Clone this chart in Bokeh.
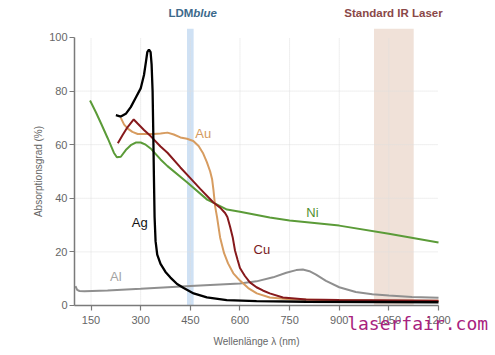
from bokeh.plotting import figure
from bokeh.models import Range1d, FixedTicker, Label
from bokeh.embed import file_html
from bokeh.resources import INLINE

# ---- data ----
ag_lam = [225, 240, 255, 270, 285, 300, 310, 316, 320, 325, 330, 333, 336, 338, 340, 342, 345, 350, 360, 375, 390, 410, 430, 460, 500, 560, 650, 800, 1000, 1200]
ag_val = [71, 70.5, 71.5, 74, 77.5, 81, 86, 91, 94.5, 95.5, 94.5, 90, 80, 65, 48, 33, 24, 19, 15.5, 12.5, 10.4, 8, 6.5, 4.5, 3, 2, 1.6, 1.4, 1.3, 1.2]

au_lam = [240, 250, 261, 275, 291, 310, 339, 360, 381, 400, 420, 440, 459, 475, 489, 500, 510, 516, 520, 525, 531, 540, 552, 564, 580, 600, 625, 651, 690, 750, 850, 1000, 1200]
au_val = [70, 67.5, 66, 64.8, 64, 64, 64, 64.2, 64.5, 63.8, 62.7, 62.2, 61.4, 59.5, 56.7, 53.5, 50, 47, 43, 37, 32.8, 25.4, 19.5, 15.7, 12, 9.3, 6.5, 4.5, 3, 2.3, 2, 1.9, 1.8]

cu_lam = [231, 245, 260, 279, 290, 310, 330, 360, 381, 420, 450, 480, 519, 540, 555, 562, 570, 578, 585, 593, 600, 615, 630, 650, 669, 690, 730, 800, 900, 1200]
cu_val = [60.5, 63.5, 66.5, 69.4, 68, 65.5, 63.2, 59.3, 57, 51.5, 47.5, 43.5, 38.5, 36.5, 34.5, 33, 29.5, 25.5, 20.5, 17, 14, 11, 8.6, 6.8, 5.6, 4.5, 3, 2.2, 2, 1.8]

ni_lam = [147, 165, 180, 200, 219, 228, 240, 255, 270, 285, 300, 315, 330, 360, 381, 440, 501, 561, 600, 690, 750, 900, 1050, 1200]
ni_val = [76.5, 72, 68, 62.5, 57, 55.3, 55.5, 58, 59.8, 60.8, 60.8, 60, 58.6, 54.5, 52, 46, 39.5, 35.8, 35, 32.8, 31.7, 29.8, 26.8, 23.5]

al_lam = [103, 108, 115, 130, 200, 300, 450, 600, 650, 700, 740, 770, 790, 810, 830, 860, 900, 950, 1000, 1050, 1120, 1200]
al_val = [7.2, 5.8, 5.4, 5.3, 5.6, 6.2, 7.3, 8.2, 9, 10.5, 12.2, 13.2, 13.4, 12.8, 11.5, 9.2, 6.8, 5, 4.2, 3.7, 3.2, 2.9]

x_ticks = [150, 300, 450, 600, 750, 900, 1050, 1200]
y_ticks = [0, 20, 40, 60, 80, 100]
blue_band = (440, 460)
ir_band = (1005, 1125)

FONT = "Liberation Sans"

# frame covers the whole canvas; axes are pinned at x=100 / y=0
p = figure(width=490, height=350, output_backend="svg", toolbar_location=None,
           x_range=Range1d(-123.6, 1357.1), y_range=Range1d(-16.8, 113.8),
           min_border=0)
p.outline_line_color = None
p.background_fill_color = "white"
p.border_fill_color = "white"
p.xgrid.visible = False
p.ygrid.visible = False

# bands
p.quad(left=[blue_band[0]], right=[blue_band[1]], bottom=[0], top=[103.3],
       fill_color="#cfe1f4", line_color=None)
p.quad(left=[ir_band[0]], right=[ir_band[1]], bottom=[0], top=[103.3],
       fill_color="#f0e1d8", line_color=None)

# grid lines
p.segment(x0=x_ticks[:-1], y0=[0]*(len(x_ticks)-1), x1=x_ticks[:-1], y1=[100]*(len(x_ticks)-1),
          line_color="#dedede", line_width=1, line_dash="1 1")
p.segment(x0=[100]*4, y0=y_ticks[1:-1], x1=[1200]*4, y1=y_ticks[1:-1],
          line_color="#dedede", line_width=1, line_dash="1 1")

# curves
p.line(al_lam, al_val, line_color="#8f8f8f", line_width=2)
p.line(ni_lam, ni_val, line_color="#5b9b38", line_width=2)
p.line(au_lam, au_val, line_color="#d79c60", line_width=2)
p.line(cu_lam, cu_val, line_color="#86191c", line_width=2)
p.line(ag_lam, ag_val, line_color="#000000", line_width=2.3)

# axes
for ax in (p.xaxis[0], p.yaxis[0]):
    ax.axis_line_color = "#7a7a7a"
    ax.axis_line_width = 1.5
    ax.major_tick_line_color = "#7a7a7a"
    ax.major_tick_line_width = 1.2
    ax.major_tick_in = 0
    ax.major_tick_out = 5
    ax.minor_tick_line_color = None
    ax.major_label_text_color = "#666666"
    ax.major_label_text_font = FONT
    ax.major_label_text_font_size = "11px"
    ax.axis_label_text_color = "#666666"
    ax.axis_label_text_font = FONT
    ax.axis_label_text_font_size = "10px"
    ax.axis_label_text_font_style = "normal"

p.xaxis.ticker = FixedTicker(ticks=x_ticks)
p.yaxis.ticker = FixedTicker(ticks=y_ticks)
p.xaxis.fixed_location = 0
p.yaxis.fixed_location = 100
p.xaxis.bounds = (100, 1200)
p.yaxis.bounds = (0, 100)
p.xaxis.axis_label = "Wellenlänge λ (nm)"
p.yaxis.axis_label = "Absorptionsgrad (%)"
p.xaxis.major_label_standoff = 6
p.yaxis.major_label_standoff = 2
p.xaxis.axis_label_standoff = 8
p.yaxis.axis_label_standoff = 2

# curve labels
def lab(x, y, t, c, size="13px", font=FONT, style="normal", align="center"):
    p.add_layout(Label(x=x, y=y, text=t, text_color=c, text_font=font, text_font_size=size,
                       text_font_style=style, text_align=align, text_baseline="middle"))

lab(489, 64, "Au", "#d49a60")
lab(297, 31, "Ag", "#111111")
lab(666, 21, "Cu", "#7a1a1e")
lab(819, 34.7, "Ni", "#4f8f2f")
lab(225, 10.8, "Al", "#a3a3a3")

# header labels
lab(459, 109.3, "LDM", "#3d6a8b", size="11.5px", style="bold", align="right")
lab(459, 109.3, "blue", "#3d6a8b", size="11.5px", style="bold italic", align="left")
lab(1064, 109.3, "Standard IR Laser", "#8a4848", size="11.5px", style="bold")

# watermark
lab(924, -6.7, "laserfair.com", "#a8227e", size="18px", font="DejaVu Sans Mono", align="left")

open("out.html", "w").write(file_html(p, INLINE))
